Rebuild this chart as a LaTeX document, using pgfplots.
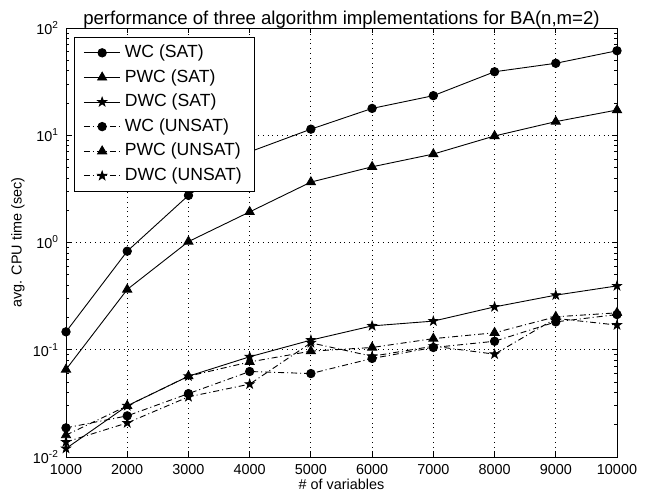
\documentclass[border=0pt]{standalone}
\usepackage{fontspec}
\setmainfont{Liberation Sans}
\usepackage{pgfplots}
\pgfplotsset{compat=1.18}
% filled five-pointed star, as in the reference
\pgfdeclareplotmark{fstar}{%
  \pgfpathmoveto{\pgfqpointpolar{90}{1.15\pgfplotmarksize}}%
  \pgfpathlineto{\pgfqpointpolar{126}{0.45\pgfplotmarksize}}%
  \pgfpathlineto{\pgfqpointpolar{162}{1.15\pgfplotmarksize}}%
  \pgfpathlineto{\pgfqpointpolar{198}{0.45\pgfplotmarksize}}%
  \pgfpathlineto{\pgfqpointpolar{234}{1.15\pgfplotmarksize}}%
  \pgfpathlineto{\pgfqpointpolar{270}{0.45\pgfplotmarksize}}%
  \pgfpathlineto{\pgfqpointpolar{306}{1.15\pgfplotmarksize}}%
  \pgfpathlineto{\pgfqpointpolar{342}{0.45\pgfplotmarksize}}%
  \pgfpathlineto{\pgfqpointpolar{18}{1.15\pgfplotmarksize}}%
  \pgfpathlineto{\pgfqpointpolar{54}{0.45\pgfplotmarksize}}%
  \pgfpathclose
  \pgfusepathqfillstroke}
\begin{document}
\begin{tikzpicture}
\begin{axis}[
  scale only axis,
  width=275.5pt, height=214.5pt,
  ymode=log, log basis y=10,
  xmin=1000, xmax=10000, ymin=1e-2, ymax=1e2,
  xtick={1000,2000,...,10000},
  scaled x ticks=false,
  ytick={1e-2,1e-1,1e0,1e1,1e2},
  minor ytick={2e-2,3e-2,4e-2,5e-2,6e-2,7e-2,8e-2,9e-2,
               2e-1,3e-1,4e-1,5e-1,6e-1,7e-1,8e-1,9e-1,
               2,3,4,5,6,7,8,9,20,30,40,50,60,70,80,90},
  xticklabel style={/pgf/number format/1000 sep=, /pgf/number format/assume math mode=true},
  yticklabel={10\textsuperscript{\pgfmathparse{int(round(\tick))}\pgfmathresult}},
  tick label style={font=\fontsize{7.2}{8}\selectfont},
  tick align=inside,
  major tick length=2.5pt, minor tick length=1.3pt,
  every tick/.style={black, thin},
  grid=major,
  major grid style={black, dotted, line width=0.45pt},
  axis line style={line width=0.5pt},
  every axis title shift=0pt,
  title={performance of three algorithm implementations for BA(n,m=2)},
  title style={font=\fontsize{9.3}{10}\selectfont, at={(axis description cs:0.5,1)}, anchor=base, yshift=2pt, inner sep=0pt},
  xlabel={\# of variables},
  ylabel={avg. CPU time (sec)},
  label style={font=\fontsize{7.2}{8}\selectfont},
  xlabel style={at={(axis description cs:0.5,0)}, anchor=base, yshift=-16.3pt, inner sep=0pt},
  ylabel style={at={(axis description cs:-0.0871,0.5)}, anchor=center},
  legend style={at={(0,1)}, anchor=north west, xshift=4pt, yshift=-4.5pt,
    font=\fontsize{8.8}{10}\selectfont, draw=black, line width=0.5pt,
    row sep=0pt, inner xsep=4.5pt, inner ysep=1.5pt,
    nodes={text height=7pt, text depth=2.3pt, inner ysep=1.5pt}},
  legend image code/.code={%
    \draw[mark repeat=2, mark phase=2, #1]
      plot coordinates {(0cm,0cm) (0.32cm,0cm) (0.64cm,0cm)};},
  legend cell align=left,
  every axis plot/.append style={black, line width=0.45pt},
]
\addplot[solid, mark=*, mark size=2.1pt, mark options={solid}] coordinates {
(1000,0.147) (2000,0.83) (3000,2.75) (4000,7.0) (5000,11.4) (6000,17.8) (7000,23.4) (8000,39.1) (9000,46.9) (10000,61.4)};
\addplot[solid, mark=triangle*, mark size=2.6pt, mark options={solid}] coordinates {
(1000,0.0655) (2000,0.365) (3000,1.02) (4000,1.93) (5000,3.66) (6000,5.08) (7000,6.68) (8000,9.85) (9000,13.4) (10000,17.2)};
\addplot[solid, mark=fstar, mark size=2pt, mark options={solid}] coordinates {
(1000,0.012) (2000,0.030) (3000,0.0567) (4000,0.086) (5000,0.123) (6000,0.167) (7000,0.185) (8000,0.251) (9000,0.323) (10000,0.394)};
\addplot[dash pattern=on 3pt off 1.5pt on 0.5pt off 1.5pt, mark=*, mark size=2.1pt, mark options={solid}] coordinates {
(1000,0.0187) (2000,0.0242) (3000,0.039) (4000,0.0627) (5000,0.060) (6000,0.083) (7000,0.105) (8000,0.120) (9000,0.182) (10000,0.213)};
\addplot[dash pattern=on 3pt off 1.5pt on 0.5pt off 1.5pt, mark=triangle*, mark size=2.6pt, mark options={solid}] coordinates {
(1000,0.016) (2000,0.030) (3000,0.0567) (4000,0.077) (5000,0.097) (6000,0.105) (7000,0.127) (8000,0.144) (9000,0.203) (10000,0.221)};
\addplot[dash pattern=on 3pt off 1.5pt on 0.5pt off 1.5pt, mark=fstar, mark size=2pt, mark options={solid}] coordinates {
(1000,0.0138) (2000,0.0208) (3000,0.0364) (4000,0.0478) (5000,0.116) (6000,0.087) (7000,0.108) (8000,0.091) (9000,0.196) (10000,0.170)};
\legend{WC (SAT), PWC (SAT), DWC (SAT), WC (UNSAT), PWC (UNSAT), DWC (UNSAT)}
\coordinate (ll) at (rel axis cs:0,0);
\end{axis}
\pgfresetboundingbox
\path[use as bounding box] (ll) ++(-33pt,-18.5pt) rectangle ++(325.5pt,247pt);
\end{tikzpicture}
\end{document}
